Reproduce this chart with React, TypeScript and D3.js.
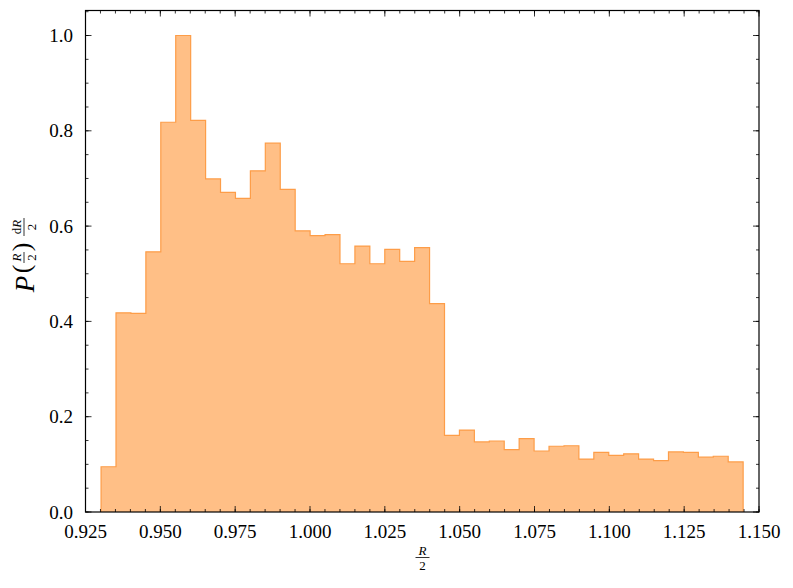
import React from "react";
import * as d3 from "d3";

// histogram of R/2 (43 equal bins), normalised so the peak is 1
const binMin = 0.9302;
const binMax = 1.1447;
const binHeights = [
  0.095, 0.418, 0.417, 0.546, 0.818, 1.0, 0.822, 0.699, 0.671, 0.658,
  0.716, 0.774, 0.677, 0.59, 0.58, 0.582, 0.521, 0.558, 0.521, 0.551,
  0.526, 0.555, 0.4375, 0.161, 0.172, 0.147, 0.149, 0.131, 0.154, 0.128,
  0.138, 0.139, 0.111, 0.125, 0.119, 0.122, 0.111, 0.108, 0.126, 0.125,
  0.115, 0.117, 0.105,
];

const xTicks = [0.925, 0.95, 0.975, 1.0, 1.025, 1.05, 1.075, 1.1, 1.125, 1.15];
const yTicks = [0, 0.2, 0.4, 0.6, 0.8, 1.0];

const W = 793;
const H = 588;
const m = { left: 85.5, right: 759, top: 10.5, bottom: 512 };
const FONT = "'Liberation Serif', 'DejaVu Serif', serif";

export default function App() {
  const x = d3.scaleLinear().domain([0.925, 1.15]).range([m.left, m.right]);
  const y = d3.scaleLinear().domain([0, 1.0525]).range([m.bottom, m.top]);

  const n = binHeights.length;
  const bw = (binMax - binMin) / n;
  const edges = d3.range(n + 1).map((i) => binMin + i * bw);

  // step points: [edge, height]
  const pts: [number, number][] = [[edges[0], 0]];
  binHeights.forEach((h, i) => pts.push([edges[i], h]));
  pts.push([edges[n], binHeights[n - 1]]);
  pts.push([edges[n], 0]);

  const area = d3
    .area<[number, number]>()
    .x((d) => x(d[0]))
    .y0(y(0))
    .y1((d) => y(d[1]))
    .curve(d3.curveStepAfter);
  const line = d3
    .line<[number, number]>()
    .x((d) => x(d[0]))
    .y((d) => y(d[1]))
    .curve(d3.curveStepAfter);

  const xMinor = d3.range(0, 46).map((i) => 0.925 + i * 0.005);
  const yMinor = d3.range(0, 22).map((i) => i * 0.05);

  const fmtX = d3.format(".3f");
  const fmtY = d3.format(".1f");

  return (
    <svg
      width={W}
      height={H}
      style={{ position: "absolute", left: 0, top: 0, background: "#fff" }}
      fontFamily={FONT}
    >
      <path d={area(pts) || ""} fill="#ffbf86" />
      <path d={line(pts) || ""} fill="none" stroke="#fd9d48" strokeWidth={1.2} />

      {/* minor ticks on all four sides */}
      <g stroke="#000" strokeWidth={0.8}>
        {xMinor.map((v, i) => (
          <g key={"xm" + i}>
            <line x1={x(v)} x2={x(v)} y1={m.bottom} y2={m.bottom - 3} />
            <line x1={x(v)} x2={x(v)} y1={m.top} y2={m.top + 3} />
          </g>
        ))}
        {yMinor.map((v, i) => (
          <g key={"ym" + i}>
            <line x1={m.left} x2={m.left + 3} y1={y(v)} y2={y(v)} />
            <line x1={m.right} x2={m.right - 3} y1={y(v)} y2={y(v)} />
          </g>
        ))}
        {xTicks.map((v, i) => (
          <g key={"xM" + i}>
            <line x1={x(v)} x2={x(v)} y1={m.bottom} y2={m.bottom - 6} />
            <line x1={x(v)} x2={x(v)} y1={m.top} y2={m.top + 6} />
          </g>
        ))}
        {yTicks.map((v, i) => (
          <g key={"yM" + i}>
            <line x1={m.left} x2={m.left + 6} y1={y(v)} y2={y(v)} />
            <line x1={m.right} x2={m.right - 6} y1={y(v)} y2={y(v)} />
          </g>
        ))}
      </g>

      <rect
        x={m.left}
        y={m.top}
        width={m.right - m.left}
        height={m.bottom - m.top}
        fill="none"
        stroke="#000"
        strokeWidth={1.2}
      />

      {/* tick labels */}
      <g fontSize={19} fill="#000">
        {xTicks.map((v, i) => (
          <text key={"xl" + i} x={x(v)} y={538} textAnchor="middle">
            {fmtX(v)}
          </text>
        ))}
        {yTicks.map((v, i) => (
          <text key={"yl" + i} x={73} y={y(v) + 6.5} textAnchor="end">
            {fmtY(v)}
          </text>
        ))}
      </g>

      {/* x label: R / 2 */}
      <g transform="translate(422.5,557.5)" fill="#000">
        <text x={0} y={-3} fontSize={13} fontStyle="italic" textAnchor="middle">
          R
        </text>
        <line x1={-7} x2={7} y1={0} y2={0} stroke="#000" strokeWidth={0.8} />
        <text x={0} y={12} fontSize={13} textAnchor="middle">
          2
        </text>
      </g>

      {/* y label: P(R/2) dR/2 */}
      <g transform="translate(24,257) rotate(-90)" fill="#000">
        <text x={-27} y={10} fontSize={27} fontStyle="italic" textAnchor="middle">
          P
        </text>
        <text x={-12} y={6} fontSize={26} textAnchor="middle">
          (
        </text>
        <text x={-0.5} y={-3} fontSize={13} fontStyle="italic" textAnchor="middle">
          R
        </text>
        <line x1={-6} x2={5} y1={0} y2={0} stroke="#000" strokeWidth={0.8} />
        <text x={-0.5} y={12} fontSize={13} textAnchor="middle">
          2
        </text>
        <text x={10} y={6} fontSize={26} textAnchor="middle">
          )
        </text>
        <text x={30} y={-3} fontSize={13} textAnchor="middle">
          d<tspan fontStyle="italic">R</tspan>
        </text>
        <line x1={21} x2={39} y1={0} y2={0} stroke="#000" strokeWidth={0.8} />
        <text x={30} y={12} fontSize={13} textAnchor="middle">
          2
        </text>
      </g>
    </svg>
  );
}
